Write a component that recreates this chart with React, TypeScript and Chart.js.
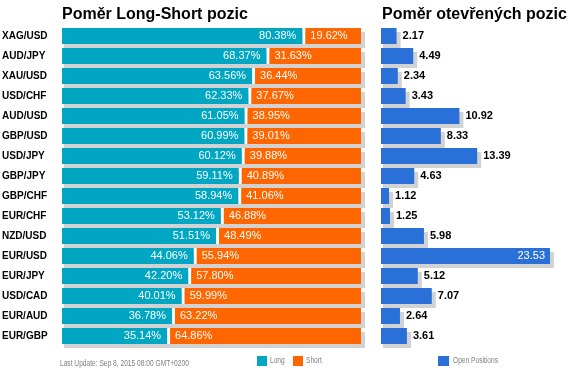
import React, { useEffect, useRef } from "react";
import { Chart, registerables } from "chart.js";

Chart.register(...registerables);

const pairs = ["XAG/USD", "AUD/JPY", "XAU/USD", "USD/CHF", "AUD/USD", "GBP/USD", "USD/JPY", "GBP/JPY", "GBP/CHF", "EUR/CHF", "NZD/USD", "EUR/USD", "EUR/JPY", "USD/CAD", "EUR/AUD", "EUR/GBP"];
const longPct = [80.38, 68.37, 63.56, 62.33, 61.05, 60.99, 60.12, 59.11, 58.94, 53.12, 51.51, 44.06, 42.2, 40.01, 36.78, 35.14];
const shortPct = [19.62, 31.63, 36.44, 37.67, 38.95, 39.01, 39.88, 40.89, 41.06, 46.88, 48.49, 55.94, 57.8, 59.99, 63.22, 64.86];
const openPositions = [2.17, 4.49, 2.34, 3.43, 10.92, 8.33, 13.39, 4.63, 1.12, 1.25, 5.98, 23.53, 5.12, 7.07, 2.64, 3.61];

const leftTitle = "Poměr Long-Short pozic";
const rightTitle = "Poměr otevřených pozic";
const footerText = "Last Update: Sep 8, 2015 08:00 GMT+0200";

const TEAL = "#00a6c2";
const ORANGE = "#ff6600";
const BLUE = "#2a70d9";
const SHADOW = "#d2d2d2";
const FONT = "'Liberation Sans', Arial, sans-serif";
const SMALL_FONT = `8.5px 'Liberation Sans', Arial, sans-serif`;
const NARROW_SCALE = 0.78;

function narrowText(ctx: any, text: string, x: number, y: number) {
  ctx.save();
  ctx.translate(x, y);
  ctx.scale(NARROW_SCALE, 1);
  ctx.fillText(text, 0, 0);
  ctx.restore();
}

function shadowPlugin(id: string) {
  return {
    id,
    beforeDatasetsDraw(chart: any) {
      const ctx = chart.ctx;
      const metas = chart.getSortedVisibleDatasetMetas();
      ctx.save();
      ctx.fillStyle = SHADOW;
      const n = chart.data.labels.length;
      for (let i = 0; i < n; i++) {
        let left = Infinity, right = -Infinity, top = 0, h = 0;
        metas.forEach((m: any) => {
          const el = m.data[i];
          const p = el.getProps(["x", "y", "base", "height"], true);
          left = Math.min(left, p.base, p.x);
          right = Math.max(right, Math.min(p.x, chart.chartArea.right), p.base);
          top = p.y - p.height / 2;
          h = p.height;
        });
        ctx.fillRect(left + 2, top + 4, right - left + 2, h);
      }
      ctx.restore();
    },
  };
}

function titlePlugin(id: string, text: string, dx: number) {
  return {
    id,
    afterDraw(chart: any) {
      const ctx = chart.ctx;
      ctx.save();
      ctx.font = `bold 16px ${FONT}`;
      ctx.fillStyle = "#000";
      ctx.textAlign = "left";
      ctx.textBaseline = "alphabetic";
      ctx.fillText(text, chart.chartArea.left + dx, 19);
      ctx.restore();
    },
  };
}

export default function App() {
  const leftRef = useRef<HTMLCanvasElement>(null);
  const rightRef = useRef<HTMLCanvasElement>(null);

  useEffect(() => {
    const leftLabels = {
      id: "leftLabels",
      afterDatasetsDraw(chart: any) {
        const ctx = chart.ctx;
        const m0 = chart.getDatasetMeta(0);
        ctx.save();
        ctx.font = `11px ${FONT}`;
        ctx.fillStyle = "#fff";
        ctx.textBaseline = "middle";
        for (let i = 0; i < longPct.length; i++) {
          const p = m0.data[i].getProps(["x", "y"], true);
          ctx.textAlign = "right";
          ctx.fillText(longPct[i].toFixed(2) + "%", p.x - 6, p.y);
          ctx.textAlign = "left";
          ctx.fillText(shortPct[i].toFixed(2) + "%", p.x + 8, p.y);
        }
        ctx.restore();
      },
    };
    const leftFooter = {
      id: "leftFooter",
      afterDraw(chart: any) {
        const ctx = chart.ctx;
        ctx.save();
        ctx.textBaseline = "middle";
        ctx.textAlign = "left";
        ctx.font = SMALL_FONT;
        ctx.fillStyle = "#808080";
        narrowText(ctx, footerText, 60, 364);
        const items = chart.data.datasets;
        const xs = [257, 293];
        items.forEach((ds: any, k: number) => {
          ctx.fillStyle = ds.backgroundColor;
          ctx.fillRect(xs[k], 356, 10, 10);
          ctx.fillStyle = "#808080";
          narrowText(ctx, ds.label, xs[k] + 13, 361);
        });
        ctx.restore();
      },
    };

    const c1 = new Chart(leftRef.current!, {
      type: "bar",
      data: {
        labels: pairs,
        datasets: [
          { label: "Long", data: longPct, backgroundColor: TEAL, borderWidth: 0, categoryPercentage: 1, barPercentage: 0.8 },
          {
            label: "Short",
            data: shortPct,
            backgroundColor: ORANGE,
            borderColor: "#ffffff",
            borderWidth: { left: 3, right: 0, top: 0, bottom: 0 },
            borderSkipped: false,
            categoryPercentage: 1,
            barPercentage: 0.8,
          },
        ],
      },
      options: {
        animation: false,
        responsive: false,
        indexAxis: "y",
        layout: { padding: { left: 2, top: 26, right: 14, bottom: 32 } },
        plugins: { legend: { display: false }, tooltip: { enabled: false }, title: { display: false } },
        scales: {
          x: { stacked: true, min: 0, max: 100, display: false },
          y: {
            stacked: true,
            grid: { display: false },
            border: { display: false },
            ticks: { crossAlign: "far", color: "#000", padding: 0, font: { family: FONT, size: 10, weight: "bold" } },
            afterFit: (s: any) => {
              s.width = 60;
            },
          },
        },
      } as any,
      plugins: [shadowPlugin("shadowL"), leftLabels, titlePlugin("titleL", leftTitle, 0), leftFooter],
    });

    const rightLabels = {
      id: "rightLabels",
      afterDatasetsDraw(chart: any) {
        const ctx = chart.ctx;
        const m = chart.getDatasetMeta(0);
        ctx.save();
        ctx.textBaseline = "middle";
        for (let i = 0; i < openPositions.length; i++) {
          const p = m.data[i].getProps(["x", "y"], true);
          const end = Math.min(p.x, chart.chartArea.right);
          const txt = openPositions[i].toFixed(2);
          ctx.font = `bold 11px ${FONT}`;
          const w = ctx.measureText(txt).width;
          if (end + 6 + w > chart.width - 8) {
            ctx.font = `11px ${FONT}`;
            ctx.fillStyle = "#fff";
            ctx.textAlign = "right";
            ctx.fillText(txt, end - 5, p.y);
          } else {
            ctx.fillStyle = "#000";
            ctx.textAlign = "left";
            ctx.fillText(txt, end + 6, p.y);
          }
        }
        ctx.restore();
      },
    };
    const rightFooter = {
      id: "rightFooter",
      afterDraw(chart: any) {
        const ctx = chart.ctx;
        ctx.save();
        ctx.textBaseline = "middle";
        ctx.textAlign = "left";
        ctx.font = SMALL_FONT;
        const ds: any = chart.data.datasets[0];
        ctx.fillStyle = ds.backgroundColor;
        ctx.fillRect(63, 356, 11, 10);
        ctx.fillStyle = "#808080";
        narrowText(ctx, ds.label, 78, 361);
        ctx.restore();
      },
    };

    const c2 = new Chart(rightRef.current!, {
      type: "bar",
      data: {
        labels: pairs,
        datasets: [
          { label: "Open Positions", data: openPositions, backgroundColor: BLUE, borderWidth: 0, categoryPercentage: 1, barPercentage: 0.8 },
        ],
      },
      options: {
        animation: false,
        responsive: false,
        indexAxis: "y",
        layout: { padding: { left: 6, top: 26, right: 35, bottom: 32 } },
        plugins: { legend: { display: false }, tooltip: { enabled: false }, title: { display: false } },
        scales: {
          x: { min: 0, max: Math.max(...openPositions), display: false },
          y: { display: false },
        },
      } as any,
      plugins: [shadowPlugin("shadowR"), rightLabels, titlePlugin("titleR", rightTitle, 1), rightFooter],
    });

    return () => {
      c1.destroy();
      c2.destroy();
    };
  }, []);

  return (
    <div style={{ position: "absolute", left: 0, top: 0, width: 585, height: 378, background: "#fff" }}>
      <canvas ref={leftRef} width={375} height={378} style={{ position: "absolute", left: 0, top: 0 }} />
      <canvas ref={rightRef} width={210} height={378} style={{ position: "absolute", left: 375, top: 0 }} />
    </div>
  );
}
